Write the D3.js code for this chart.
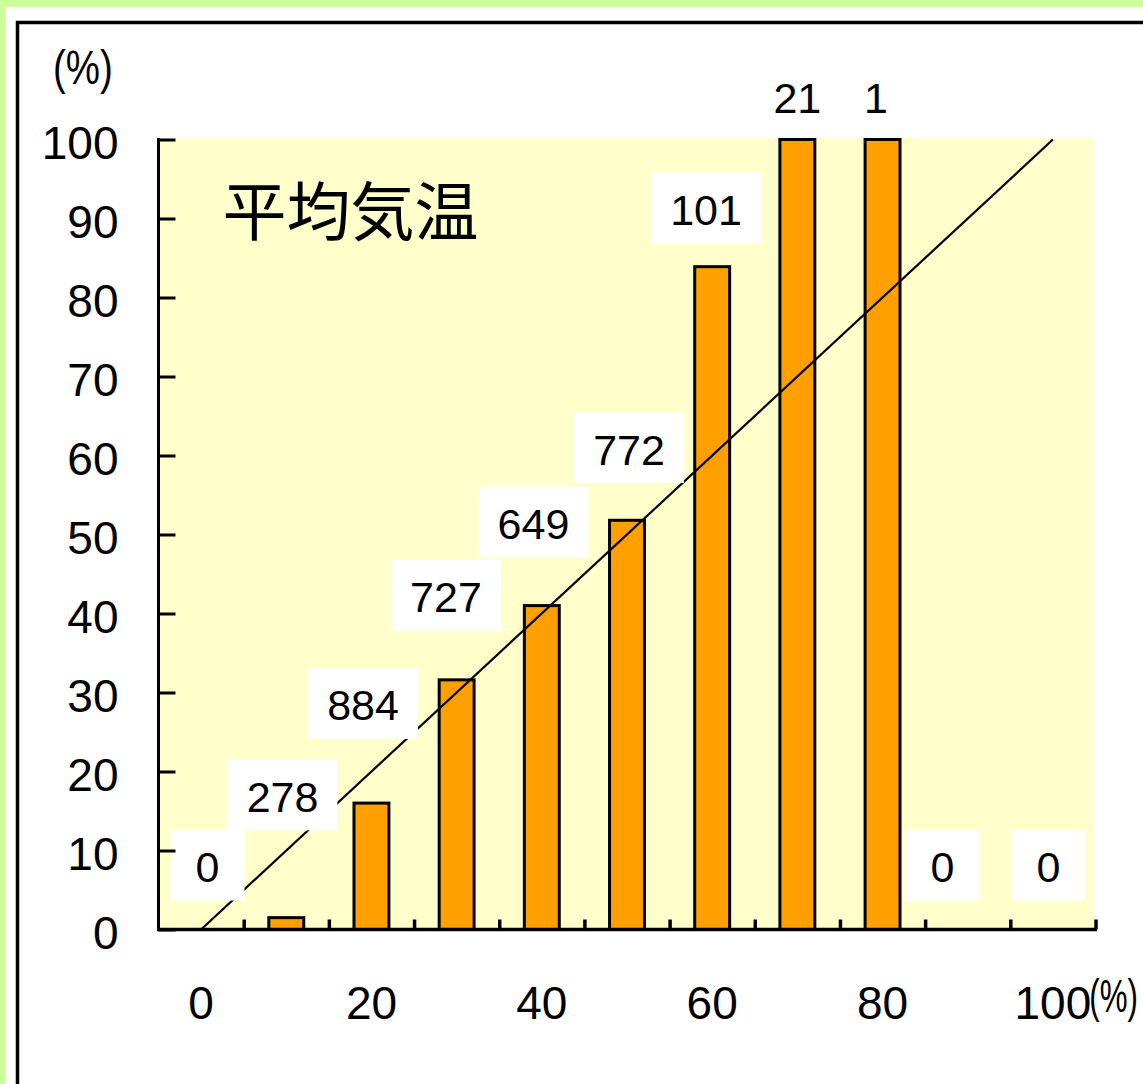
<!DOCTYPE html>
<html lang="ja">
<head>
<meta charset="utf-8">
<script src="https://cdn.jsdelivr.net/npm/d3@7"></script>
<style>
  html, body { margin: 0; padding: 0; background: #ffffff; }
  svg { display: block; }
  .num { font-family: "Liberation Sans", Arial, sans-serif; fill: #000; }
</style>
</head>
<body>
<svg id="chart" width="1143" height="1084"></svg>
<script>
// Forecast probability bins (%), observed frequency (%) and number of cases per bin
const categories = ["0", "10", "20", "30", "40", "50", "60", "70", "80", "90", "100"];
const observed   = [0, 1.5, 16.0, 31.6, 41.0, 51.8, 83.9, 100, 100, 0, 0];
const counts     = [0, 278, 884, 727, 649, 772, 101, 21, 1, 0, 0];

// Axis ticks
const yTicks = [0, 10, 20, 30, 40, 50, 60, 70, 80, 90, 100];
const xTickLabels = ["0", "20", "40", "60", "80", "100"];

// Where each case-count label sits: horizontal shift within its bin (fraction of a bin)
// and height on the frequency axis (%)
const countLabelShift = [0.075, -0.044, -0.099, -0.125, -0.098, 0.024, -0.072, 0, -0.077, -0.296, -0.052];
const countLabelLevel = [7.97, 16.84, 28.42, 42.09, 51.39, 60.82, 91.14, 105.3, 105.3, 7.97, 7.97];

const W = 1143, H = 1084;
const svg = d3.select("#chart");

// page frame
svg.append("rect").attr("x", 0).attr("y", 0).attr("width", W).attr("height", H).attr("fill", "#ccff99");
svg.append("rect").attr("x", 5).attr("y", 7).attr("width", W).attr("height", H).attr("fill", "#ffffff");
svg.append("rect").attr("x", 17.5).attr("y", 22.5).attr("width", W + 20).attr("height", H + 20)
  .attr("fill", "none").attr("stroke", "#000").attr("stroke-width", 3.5);

const plotLeft = 158.5, plotRight = 1095.5, plotBottom = 929.5, plotTop = 139.5;

const x = d3.scaleBand().domain(categories).range([plotLeft, plotRight]).padding(0);
const y = d3.scaleLinear().domain([0, 100]).range([plotBottom, plotTop]);
const edge = d3.scaleLinear().domain([0, categories.length]).range([plotLeft, plotRight]);
const cx = (i, shift = 0) => x(categories[i]) + x.bandwidth() * (0.5 + shift);

// plot background
svg.append("rect").attr("x", plotLeft).attr("y", y(100) - 1.5)
  .attr("width", plotRight - 2 - plotLeft).attr("height", plotBottom - y(100) + 1.5)
  .attr("fill", "#ffffcc");

// bars
const barW = x.bandwidth() * 0.41;
svg.append("g").selectAll("rect")
  .data(observed.map((v, i) => ({ v, i })).filter(d => d.v > 0))
  .join("rect")
  .attr("x", d => cx(d.i) - barW / 2)
  .attr("y", d => y(d.v))
  .attr("width", barW)
  .attr("height", d => y(0) - y(d.v))
  .attr("fill", "#ff9f00")
  .attr("stroke", "#000")
  .attr("stroke-width", 3);

// perfect-reliability diagonal
const line = d3.line().x(d => cx(d[0])).y(d => y(d[1]));
svg.append("path")
  .attr("d", line([[0, 0], [categories.length - 1, 100]]))
  .attr("fill", "none").attr("stroke", "#000").attr("stroke-width", 2.2);

// case-count labels on white boxes
const labels = svg.append("g").selectAll("g")
  .data(counts.map((c, i) => ({ c, i })))
  .join("g")
  .attr("transform", d => `translate(${cx(d.i, countLabelShift[d.i])},${y(countLabelLevel[d.i])})`);
labels.append("rect").attr("fill", "#ffffff");
const texts = labels.append("text").attr("class", "num")
  .attr("text-anchor", "middle").attr("dy", "0.36em")
  .style("font-size", "43px")
  .text(d => d.c);
texts.each(function () {
  const w = this.getComputedTextLength();
  const bw = Math.max(74, w + 38);
  d3.select(this.parentNode).select("rect")
    .attr("x", -bw / 2).attr("y", -37).attr("width", bw).attr("height", 71);
});

// y axis (ticks pointing inward)
const yAxis = svg.append("g").attr("transform", `translate(${plotLeft},0)`)
  .call(d3.axisLeft(y).tickValues(yTicks).tickSizeInner(-17).tickSizeOuter(0).tickPadding(40));
yAxis.select(".domain").attr("stroke", "#000").attr("stroke-width", 3)
  .attr("d", `M0,${plotBottom + 1.5}V${plotTop - 1.5}`);
yAxis.selectAll(".tick line").attr("stroke", "#000").attr("stroke-width", 3);
yAxis.selectAll(".tick text").attr("class", "num")
  .style("font-size", "46px").attr("y", 2).attr("dy", "0.36em");

// x axis: bin boundaries with short upward ticks
const xAxis = svg.append("g").attr("transform", `translate(0,${plotBottom})`)
  .call(d3.axisBottom(edge).tickValues(d3.range(1, categories.length + 1)).tickSizeInner(-10).tickSizeOuter(0).tickFormat(""));
xAxis.select(".domain").attr("stroke", "#000").attr("stroke-width", 3.5)
  .attr("d", `M${plotLeft - 1.5},0H${plotRight + 1.5}`);
xAxis.selectAll(".tick line").attr("stroke", "#000").attr("stroke-width", 3.5);

// x axis labels at bin centres
const xLab = svg.append("g").attr("transform", `translate(0,${plotBottom})`)
  .call(d3.axisBottom(x).tickValues(xTickLabels).tickSize(0).tickPadding(0));
xLab.select(".domain").remove();
xLab.selectAll(".tick text").attr("class", "num")
  .style("font-size", "46px").attr("y", 89).attr("dy", "0");

// unit marks, horizontally condensed
const lastLabel = xLab.selectAll(".tick text").filter(d => d === "100").node();
const lastW = lastLabel.getComputedTextLength();
svg.append("text").attr("class", "num")
  .attr("transform", `translate(${cx(categories.length - 1) + lastW / 2 - 2},${plotBottom + 82}) scale(0.68,1)`)
  .style("font-size", "46px")
  .text("(%)");
svg.append("text").attr("class", "num")
  .attr("transform", "translate(53,84) scale(0.8,1)")
  .style("font-size", "48px")
  .text("(%)");

// title inside the plot
svg.append("text")
  .attr("x", 350.5).attr("y", 211.5).attr("dy", "0.36em")
  .attr("text-anchor", "middle")
  .style("font-family", "'Noto Sans CJK JP', sans-serif")
  .style("font-size", "64px").attr("fill", "#000")
  .text("平均気温");
</script>
</body>
</html>
